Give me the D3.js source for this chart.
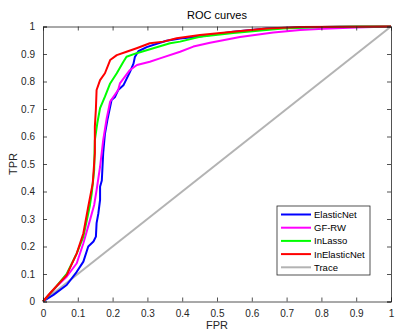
<!DOCTYPE html>
<html><head><meta charset="utf-8">
<script src="https://cdn.jsdelivr.net/npm/d3@7"></script>
<style>body{margin:0;background:#fff}svg{display:block}text{font-family:"Liberation Sans",Arial,sans-serif}</style>
</head><body><div id="chart"></div>
<script>
const seriesNames = ["ElasticNet","GF-RW","InLasso","InElasticNet","Trace"];
const seriesColors = ["#0000ff","#ff00ff","#00ff00","#ff0000","#b3b3b3"];
const elasticNet = [[0,0],[0.03,0.024],[0.068,0.06],[0.097,0.108],[0.116,0.145],[0.13,0.2],[0.145,0.218],[0.152,0.236],[0.154,0.285],[0.159,0.32],[0.164,0.37],[0.164,0.417],[0.169,0.44],[0.173,0.54],[0.178,0.61],[0.185,0.66],[0.197,0.733],[0.207,0.744],[0.216,0.769],[0.231,0.786],[0.25,0.835],[0.26,0.865],[0.264,0.889],[0.274,0.91],[0.298,0.925],[0.327,0.937],[0.355,0.948],[0.394,0.956],[0.451,0.964],[0.546,0.981],[0.643,0.993],[0.75,0.997],[0.85,0.999],[1,1]];
const gfRw = [[0,0],[0.039,0.054],[0.068,0.09],[0.097,0.139],[0.116,0.212],[0.135,0.296],[0.147,0.351],[0.154,0.405],[0.164,0.49],[0.173,0.587],[0.183,0.666],[0.193,0.727],[0.216,0.769],[0.221,0.793],[0.25,0.842],[0.27,0.86],[0.307,0.872],[0.336,0.884],[0.394,0.908],[0.432,0.927],[0.48,0.941],[0.566,0.962],[0.662,0.978],[0.739,0.987],[0.805,0.992],[0.9,0.996],[1,1]];
const inLasso = [[0,0],[0.03,0.042],[0.068,0.1],[0.097,0.175],[0.116,0.236],[0.13,0.32],[0.135,0.351],[0.14,0.393],[0.147,0.478],[0.149,0.587],[0.156,0.648],[0.164,0.703],[0.178,0.745],[0.193,0.793],[0.212,0.83],[0.231,0.872],[0.24,0.89],[0.269,0.903],[0.317,0.921],[0.365,0.939],[0.394,0.945],[0.451,0.963],[0.547,0.976],[0.69,0.993],[0.8,0.998],[0.9,1],[1,1]];
const inElasticNet = [[0,0],[0.02,0.03],[0.068,0.096],[0.097,0.175],[0.116,0.248],[0.13,0.345],[0.143,0.43],[0.145,0.466],[0.149,0.539],[0.149,0.636],[0.152,0.7],[0.154,0.769],[0.164,0.805],[0.178,0.83],[0.193,0.878],[0.212,0.896],[0.24,0.908],[0.269,0.921],[0.307,0.939],[0.346,0.945],[0.384,0.957],[0.451,0.969],[0.547,0.981],[0.643,0.993],[0.739,0.998],[1,1]];
const trace = [[0,0],[1,1]];
const allSeries = [elasticNet, gfRw, inLasso, inElasticNet, trace];
const xTicks = [0,0.1,0.2,0.3,0.4,0.5,0.6,0.7,0.8,0.9,1];
const yTicks = [0,0.1,0.2,0.3,0.4,0.5,0.6,0.7,0.8,0.9,1];

const W=395,H=332, L=43,R=391,T=26.5,B=301.5;
const svg=d3.select("#chart").append("svg").attr("width",W).attr("height",H);
const x=d3.scaleLinear().domain([0,1]).range([L,R]);
const y=d3.scaleLinear().domain([0,1]).range([B,T]);
const axCol="#262626";

// lines
const line=d3.line().x(d=>x(d[0])).y(d=>y(d[1]));
const order=[4,0,1,2,3];
order.forEach(i=>{
  svg.append("path").datum(allSeries[i]).attr("d",line).attr("fill","none")
    .attr("stroke",seriesColors[i]).attr("stroke-width",2).attr("stroke-linejoin","round");
});

// axes
const gx=svg.append("g").attr("transform",`translate(0,${B})`)
  .call(d3.axisBottom(x).tickValues(xTicks).tickSize(-4).tickPadding(8).tickFormat(d3.format("")));
const gx2=svg.append("g").attr("transform",`translate(0,${T})`)
  .call(d3.axisTop(x).tickValues(xTicks).tickSize(-4).tickFormat(""));
const gy=svg.append("g").attr("transform",`translate(${L},0)`)
  .call(d3.axisLeft(y).tickValues(yTicks).tickSize(-4).tickPadding(8).tickFormat(d3.format("")));
const gy2=svg.append("g").attr("transform",`translate(${R},0)`)
  .call(d3.axisRight(y).tickValues(yTicks).tickSize(-4).tickFormat(""));
[gx,gx2,gy,gy2].forEach(g=>{
  g.selectAll(".domain").attr("stroke",axCol).attr("stroke-width",0.8);
  g.selectAll(".tick line").attr("stroke",axCol).attr("stroke-width",0.8);
  g.selectAll("text").attr("fill",axCol).style("font-size","10px").style("font-family","Liberation Sans, Arial, sans-serif");
});

// titles
svg.append("text").attr("x",(L+R)/2).attr("y",19).attr("text-anchor","middle")
  .attr("fill","#000").style("font-size","11px").text("ROC curves");
svg.append("text").attr("x",(L+R)/2).attr("y",329).attr("text-anchor","middle")
  .attr("fill",axCol).style("font-size","11px").text("FPR");
svg.append("text").attr("transform",`translate(17,${(T+B)/2}) rotate(-90)`).attr("text-anchor","middle")
  .attr("fill",axCol).style("font-size","11px").text("TPR");

// legend
const lg=svg.append("g");
lg.append("rect").attr("x",277).attr("y",206).attr("width",93).attr("height",69)
  .attr("fill","#fff").attr("stroke",axCol).attr("stroke-width",0.8);
seriesNames.forEach((n,i)=>{
  const yy=214.5+i*13.2;
  lg.append("line").attr("x1",281).attr("x2",311).attr("y1",yy).attr("y2",yy)
    .attr("stroke",seriesColors[i]).attr("stroke-width",2);
  lg.append("text").attr("x",314).attr("y",yy+3.5).attr("fill","#000")
    .style("font-size","9.5px").text(n);
});
</script></body></html>
